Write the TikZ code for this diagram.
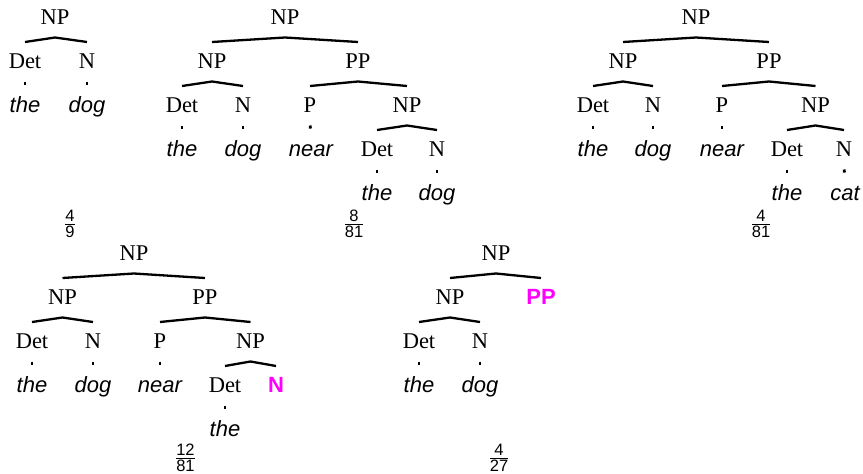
\documentclass[tikz,border=0pt]{standalone}
\usepackage{amsmath}
\usepackage{fontspec}
\setmainfont{Liberation Serif}
\setsansfont{Liberation Sans}
\definecolor{slot}{RGB}{255,0,255}

% parent--children tent and the short stem from a preterminal to its word
\newcommand\tbranch[3]{\draw[branch] ([yshift=26pt]#2.base) -- ([yshift=-13.5pt]#1.base) -- ([yshift=26pt]#3.base);}
\newcommand\tstem[2]{\draw[stem] (#1.base) -- (#2.base);}
\newcommand\prdigits[1]{\hbox{\fontsize{16.5}{18}\selectfont\sffamily #1}}
\newcommand\pr[2]{$\genfrac{}{}{1.1pt}{1}{\prdigits{#1}}{\prdigits{#2}}$}

\begin{document}
\begin{tikzpicture}[x=1pt,y=-1pt,
  cat/.style={anchor=base, inner sep=0pt, font=\fontsize{22.5}{26}\selectfont},
  word/.style={anchor=base, inner sep=0pt, font=\fontsize{22}{26}\selectfont\sffamily\itshape},
  hole/.style={anchor=base, inner sep=0pt, text=slot, font=\fontsize{22}{26}\selectfont\sffamily\bfseries},
  branch/.style={line width=2.3pt, line join=round},
  stem/.style={line width=2.8pt, shorten <=13.5pt, shorten >=27.5pt},
  prob/.style={inner sep=0pt, font=\fontsize{22.5}{26}\selectfont}]
\useasboundingbox (0,0) rectangle (863,474);

% tree 1: NP -> Det N
\node[cat]  (a0) at (55,24)  {NP};
\node[cat]  (a1) at (25,68)  {Det};
\node[cat]  (a2) at (87,68)  {N};
\node[word] (a3) at (25,112) {the};
\node[word] (a4) at (87,112) {dog};
\tbranch{a0}{a1}{a2}
\tstem{a1}{a3} \tstem{a2}{a4}
\node[prob] (f1) at (70,224) {\pr{4}{9}};

% tree 2: the dog near the dog
\node[cat]  (b0)  at (285,24)  {NP};
\node[cat]  (b1)  at (212,68)  {NP};
\node[cat]  (b2)  at (358,68)  {PP};
\node[cat]  (b3)  at (182,112) {Det};
\node[cat]  (b4)  at (243,112) {N};
\node[cat]  (b5)  at (310,112) {P};
\node[cat]  (b6)  at (407,112) {NP};
\node[word] (b7)  at (182,156) {the};
\node[word] (b8)  at (243,156) {dog};
\node[word] (b9)  at (311,156) {near};
\node[cat]  (b10) at (377,156) {Det};
\node[cat]  (b11) at (437,156) {N};
\node[word] (b12) at (377,200) {the};
\node[word] (b13) at (437,200) {dog};
\tbranch{b0}{b1}{b2}
\tbranch{b1}{b3}{b4}
\tbranch{b2}{b5}{b6}
\tbranch{b6}{b10}{b11}
\tstem{b3}{b7} \tstem{b4}{b8} \tstem{b5}{b9}
\tstem{b10}{b12} \tstem{b11}{b13}
\node[prob] (f2) at (354,224) {\pr{8}{81}};

% tree 3: the dog near the cat
\node[cat]  (c0)  at (696,24)   {NP};
\node[cat]  (c1)  at (623,68)   {NP};
\node[cat]  (c2)  at (769,68)   {PP};
\node[cat]  (c3)  at (593,112)  {Det};
\node[cat]  (c4)  at (653,112)  {N};
\node[cat]  (c5)  at (722,112)  {P};
\node[cat]  (c6)  at (815.5,112){NP};
\node[word] (c7)  at (593,156)  {the};
\node[word] (c8)  at (653,156)  {dog};
\node[word] (c9)  at (722,156)  {near};
\node[cat]  (c10) at (787,156)  {Det};
\node[cat]  (c11) at (844,156)  {N};
\node[word] (c12) at (787,200)  {the};
\node[word] (c13) at (845,200)  {cat};
\tbranch{c0}{c1}{c2}
\tbranch{c1}{c3}{c4}
\tbranch{c2}{c5}{c6}
\tbranch{c6}{c10}{c11}
\tstem{c3}{c7} \tstem{c4}{c8} \tstem{c5}{c9}
\tstem{c10}{c12} \tstem{c11}{c13}
\node[prob] (f3) at (761,224) {\pr{4}{81}};

% tree 4: open N slot
\node[cat]  (d0)  at (134,260)  {NP};
\node[cat]  (d1)  at (62.5,304) {NP};
\node[cat]  (d2)  at (205,304)  {PP};
\node[cat]  (d3)  at (32,348)   {Det};
\node[cat]  (d4)  at (93,348)   {N};
\node[cat]  (d5)  at (160,348)  {P};
\node[cat]  (d6)  at (250.5,348){NP};
\node[word] (d7)  at (32,392)   {the};
\node[word] (d8)  at (93,392)   {dog};
\node[word] (d9)  at (160,392)  {near};
\node[cat]  (d10) at (225,392)  {Det};
\node[hole] (d11) at (276,392)  {N};
\node[word] (d12) at (225,436)  {the};
\tbranch{d0}{d1}{d2}
\tbranch{d1}{d3}{d4}
\tbranch{d2}{d5}{d6}
\tbranch{d6}{d10}{d11}
\tstem{d3}{d7} \tstem{d4}{d8} \tstem{d5}{d9}
\tstem{d10}{d12}
\node[prob] (f4) at (185.5,457.5) {\pr{12}{81}};

% tree 5: open PP slot
\node[cat]  (e0) at (496,260) {NP};
\node[cat]  (e1) at (450,304) {NP};
\node[hole] (e2) at (541,304) {PP};
\node[cat]  (e3) at (419,348) {Det};
\node[cat]  (e4) at (480,348) {N};
\node[word] (e5) at (419,392) {the};
\node[word] (e6) at (480,392) {dog};
\tbranch{e0}{e1}{e2}
\tbranch{e1}{e3}{e4}
\tstem{e3}{e5} \tstem{e4}{e6}
\node[prob] (f5) at (499,457.5) {\pr{4}{27}};
\end{tikzpicture}
\end{document}
